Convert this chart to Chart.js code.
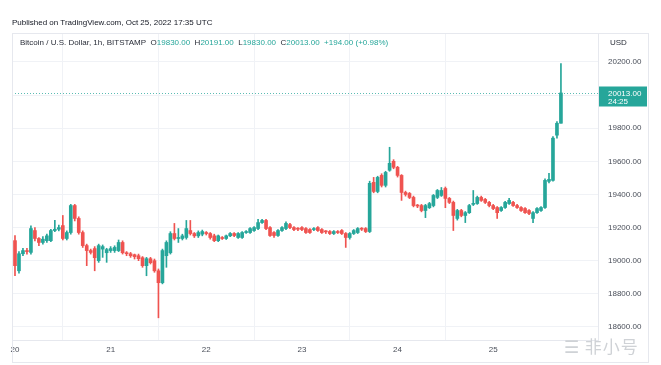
<!DOCTYPE html>
<html>
<head>
<meta charset="utf-8">
<script src="https://cdn.jsdelivr.net/npm/chart.js@4.4.0/dist/chart.umd.min.js"></script>
<style>
  html, body { margin:0; padding:0; background:#ffffff; }
  #wrap { position:relative; width:661px; height:365px; overflow:hidden; font-family:"Liberation Sans", Arial, sans-serif; }
  canvas { position:absolute; left:0; top:0; }
  .txt { position:absolute; white-space:nowrap; font-size:8px; color:#131722; }
  .teal { color:#26a69a; }
  #box { position:absolute; left:12px; top:33px; width:635px; height:328px; border:1px solid #e6e8ee; pointer-events:none; }
  #wm { position:absolute; left:564px; top:333px; font-family:"Noto Sans CJK SC", sans-serif; font-size:17px; color:#cfd2d6; white-space:nowrap; letter-spacing:1px; }
</style>
</head>
<body>
<div id="wrap">
  <canvas id="c" width="661" height="365"></canvas>
  <div id="box"></div>
  <div class="txt" style="left:12px; top:18px;">Published on TradingView.com, Oct 25, 2022 17:35 UTC</div>
  <div class="txt" style="left:20px; top:38px; color:#2a2e39;">Bitcoin / U.S. Dollar, 1h, BITSTAMP&nbsp; O<span class="teal">19830.00</span>&nbsp; H<span class="teal">20191.00</span>&nbsp; L<span class="teal">19830.00</span>&nbsp; C<span class="teal">20013.00</span>&nbsp; <span class="teal">+194.00 (+0.98%)</span></div>
  <div class="txt" style="left:610px; top:38px; color:#2a2e39;">USD</div>
  <div id="wm">☰&nbsp;非小号</div>
</div>
<script>
// Hourly candles, Oct 20 00:00 UTC .. Oct 25 17:00 UTC (BTC/USD, BITSTAMP)
const opens = [19121,18939,19042,19061,19050,19182,19134,19110,19121,19121,19182,19190,19212,19134,19170,19333,19255,19170,19091,19061,
  19073,19000,19070,19048,19061,19061,19061,19110,19048,19042,19036,19030,19018,18970,19012,19000,18939,18867,19030,19048,
  19164,19134,19134,19140,19182,19164,19150,19160,19170,19164,19150,19121,19140,19134,19150,19164,19140,19140,19170,19170,
  19182,19194,19230,19243,19200,19170,19152,19182,19194,19218,19200,19194,19200,19194,19188,19188,19200,19188,19178,19176,
  19164,19176,19182,19164,19140,19164,19170,19194,19194,19176,19473,19418,19515,19455,19546,19600,19564,19515,19412,19406,
  19382,19333,19333,19303,19320,19333,19382,19394,19436,19376,19352,19255,19303,19273,19290,19340,19345,19382,19370,19352,
  19333,19321,19303,19321,19345,19352,19333,19321,19315,19303,19255,19290,19303,19321,19479,19485,19758,19830];
const highs = [19152,19055,19075,19075,19210,19200,19140,19145,19160,19190,19243,19215,19273,19180,19340,19340,19265,19180,19100,19070,
  19085,19100,19095,19075,19085,19090,19125,19120,19055,19050,19040,19040,19025,19020,19020,19010,18950,19070,19120,19175,
  19225,19194,19160,19243,19243,19170,19180,19185,19176,19170,19160,19155,19146,19155,19170,19170,19170,19176,19182,19200,
  19206,19250,19250,19250,19206,19176,19188,19206,19235,19225,19206,19200,19206,19200,19194,19200,19206,19194,19182,19182,
  19182,19182,19188,19170,19170,19188,19200,19200,19200,19480,19503,19510,19525,19540,19685,19610,19570,19520,19420,19412,
  19390,19340,19340,19340,19352,19400,19430,19442,19445,19382,19360,19310,19310,19297,19340,19424,19390,19390,19376,19358,
  19340,19327,19327,19358,19376,19358,19340,19327,19321,19309,19297,19321,19327,19495,19527,19750,19840,20191];
const lows = [18909,18925,19030,19040,19040,19120,19090,19100,19110,19115,19175,19180,19125,19125,19160,19240,19160,19080,18970,19040,
  18939,18990,19020,18990,19050,19050,19055,19040,19030,19020,19010,19000,18960,18909,18980,18930,18655,18860,18960,19040,
  19125,19110,19125,19130,19155,19140,19140,19150,19155,19130,19115,19115,19128,19128,19145,19145,19134,19134,19164,19164,
  19176,19188,19225,19188,19146,19140,19146,19176,19188,19194,19182,19182,19182,19164,19164,19182,19176,19164,19164,19158,
  19158,19164,19158,19080,19130,19158,19164,19182,19170,19170,19410,19410,19445,19445,19540,19555,19505,19364,19390,19375,
  19325,19320,19295,19260,19315,19325,19375,19388,19320,19345,19182,19245,19265,19230,19285,19333,19340,19358,19345,19325,
  19308,19255,19297,19315,19340,19327,19315,19297,19285,19278,19230,19285,19297,19315,19470,19480,19740,19830];
const closes = [18970,19042,19061,19055,19194,19134,19110,19130,19150,19182,19190,19200,19134,19170,19333,19255,19170,19091,19061,19050,
  19018,19091,19085,19067,19073,19080,19110,19048,19042,19030,19024,19012,18970,19012,18988,18939,18867,19061,19110,19164,
  19134,19140,19150,19194,19164,19150,19170,19176,19164,19140,19121,19150,19134,19150,19164,19152,19164,19170,19176,19194,
  19200,19230,19243,19194,19152,19152,19182,19200,19225,19200,19188,19190,19188,19170,19170,19194,19182,19170,19174,19164,
  19176,19170,19164,19140,19164,19182,19194,19190,19176,19467,19418,19503,19455,19533,19588,19564,19515,19412,19400,19382,
  19333,19330,19303,19333,19345,19394,19424,19424,19376,19352,19273,19303,19273,19290,19333,19345,19382,19364,19352,19333,
  19315,19290,19321,19352,19364,19333,19321,19303,19290,19285,19290,19315,19321,19485,19491,19740,19830,20013];
const dayLabels = ['20','21','22','23','24','25'];
const priceTicks = [18600,18800,19000,19200,19400,19600,19800,20000,20200];
const countdown = '24:25';

const UP = '#26a69a', DOWN = '#ef5350';
const hours = opens.map((_, i) => i);
const colors = hours.map(i => closes[i] >= opens[i] ? UP : DOWN);
const lastClose = closes[closes.length - 1];

const lastPricePlugin = {
  id: 'lastPrice',
  afterDatasetsDraw(chart) {
    const { ctx, chartArea, scales } = chart;
    const y = Math.round(scales.y.getPixelForValue(lastClose)) + 0.5;
    ctx.save();
    ctx.strokeStyle = 'rgba(38,166,154,0.75)';
    ctx.lineWidth = 1;
    ctx.setLineDash([1, 2]);
    ctx.beginPath();
    ctx.moveTo(chartArea.left, y);
    ctx.lineTo(chartArea.right, y);
    ctx.stroke();
    ctx.setLineDash([]);
    ctx.fillStyle = UP;
    ctx.fillRect(chartArea.right + 1, y - 7, 48, 20);
    ctx.fillStyle = '#ffffff';
    ctx.font = '8px "Liberation Sans", Arial, sans-serif';
    ctx.textBaseline = 'middle';
    ctx.textAlign = 'left';
    ctx.fillText(lastClose.toFixed(2), chartArea.right + 10, y);
    ctx.fillText(countdown, chartArea.right + 10, y + 8);
    ctx.restore();
  }
};

const font = { family: '"Liberation Sans", Arial, sans-serif', size: 8 };

new Chart(document.getElementById('c'), {
  type: 'bar',
  data: {
    datasets: [
      {
        label: 'wick',
        data: hours.map(i => ({ x: i, y: [lows[i], highs[i]] })),
        backgroundColor: colors,
        barThickness: 1,
        grouped: false,
        order: 2
      },
      {
        label: 'body',
        data: hours.map(i => ({ x: i, y: [opens[i], closes[i]] })),
        backgroundColor: colors,
        barThickness: 3,
        minBarLength: 1,
        grouped: false,
        order: 1
      }
    ]
  },
  options: {
    responsive: false,
    animation: false,
    layout: { padding: { left: 12, top: 33, right: 13, bottom: 3 } },
    plugins: { legend: { display: false }, tooltip: { enabled: false } },
    scales: {
      x: {
        type: 'linear',
        min: -0.75,
        max: 146.3,
        offset: false,
        ticks: {
          stepSize: 24,
          includeBounds: false,
          autoSkip: false,
          maxRotation: 0,
          font: font,
          color: '#4a4f5a',
          padding: 5,
          callback: v => dayLabels[v / 24] || ''
        },
        grid: {
          drawTicks: false,
          color: ctx => (ctx.tick && dayLabels[ctx.tick.value / 24] !== undefined) ? '#f0f2f6' : 'rgba(0,0,0,0)'
        },
        border: { color: '#e6e8ee' },
        afterFit: s => { s.height = 22; }
      },
      y: {
        position: 'right',
        min: 18521,
        max: 20375,
        afterBuildTicks: s => { s.ticks = priceTicks.map(v => ({ value: v })); },
        ticks: {
          font: font,
          color: '#4a4f5a',
          padding: 10,
          callback: v => Number(v).toFixed(2)
        },
        grid: { drawTicks: false, color: '#f0f2f6' },
        border: { color: '#e6e8ee' },
        afterFit: s => { s.width = 50; }
      }
    }
  },
  plugins: [lastPricePlugin]
});
</script>
</body>
</html>
